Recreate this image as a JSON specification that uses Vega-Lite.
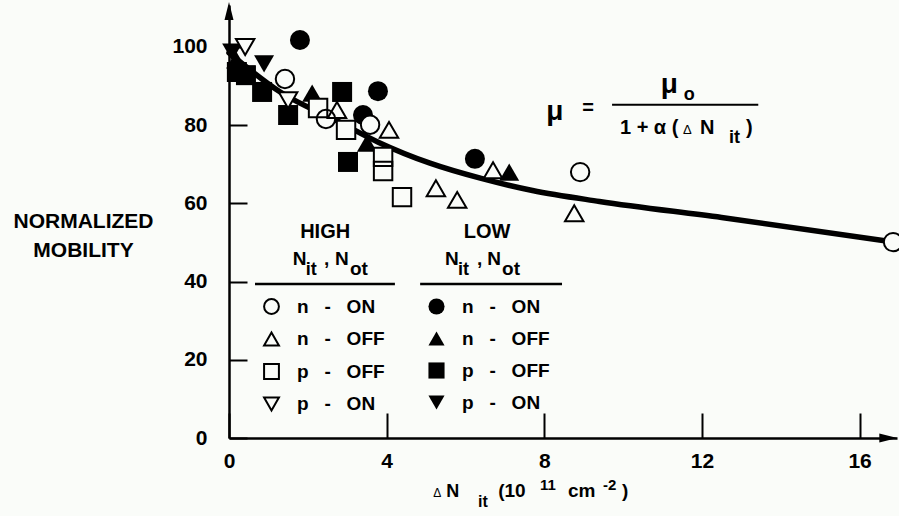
{
  "$schema": "https://vega.github.io/schema/vega-lite/v6.json",
  "width": 668,
  "height": 433,
  "autosize": {"type": "none"},
  "padding": {"left": 229, "top": 5, "right": 2, "bottom": 78},
  "background": "#fafcf9",
  "config": {
    "view": {"stroke": null},
    "font": "Liberation Sans",
    "text": {"font": "Liberation Sans", "fontWeight": "bold", "color": "black"},
    "axis": {
      "grid": false,
      "domainColor": "black",
      "domainWidth": 2.5,
      "tickColor": "black",
      "tickWidth": 2,
      "labelFont": "Liberation Sans",
      "labelFontWeight": "bold",
      "labelFontSize": 21,
      "labelColor": "black",
      "labelFlush": false,
      "labelOverlap": false,
      "titleFont": "Liberation Sans",
      "titleFontWeight": "bold",
      "titleColor": "black"
    }
  },
  "datasets": {
    "points": [
      {"level": "HIGH", "type": "n - ON", "x": 1.42, "y": 91.8},
      {"level": "HIGH", "type": "n - ON", "x": 2.46, "y": 81.6},
      {"level": "HIGH", "type": "n - ON", "x": 3.58, "y": 80.1},
      {"level": "HIGH", "type": "n - ON", "x": 8.91, "y": 68.0},
      {"level": "HIGH", "type": "n - ON", "x": 16.85, "y": 50.1},
      {"level": "HIGH", "type": "n - OFF", "x": 2.74, "y": 83.9},
      {"level": "HIGH", "type": "n - OFF", "x": 4.06, "y": 78.8},
      {"level": "HIGH", "type": "n - OFF", "x": 5.25, "y": 63.9},
      {"level": "HIGH", "type": "n - OFF", "x": 5.79, "y": 60.9},
      {"level": "HIGH", "type": "n - OFF", "x": 6.70, "y": 68.5},
      {"level": "HIGH", "type": "n - OFF", "x": 8.76, "y": 57.5},
      {"level": "HIGH", "type": "p - OFF", "x": 2.26, "y": 84.4},
      {"level": "HIGH", "type": "p - OFF", "x": 2.97, "y": 78.8},
      {"level": "HIGH", "type": "p - OFF", "x": 3.91, "y": 71.9},
      {"level": "HIGH", "type": "p - OFF", "x": 3.91, "y": 68.3},
      {"level": "HIGH", "type": "p - OFF", "x": 4.39, "y": 61.6},
      {"level": "HIGH", "type": "p - ON", "x": 0.41, "y": 100.0},
      {"level": "HIGH", "type": "p - ON", "x": 1.50, "y": 86.4},
      {"level": "LOW", "type": "n - ON", "x": 1.80, "y": 101.8},
      {"level": "LOW", "type": "n - ON", "x": 3.78, "y": 88.7},
      {"level": "LOW", "type": "n - ON", "x": 3.40, "y": 82.6},
      {"level": "LOW", "type": "n - ON", "x": 6.24, "y": 71.4},
      {"level": "LOW", "type": "n - OFF", "x": 0.18, "y": 96.7},
      {"level": "LOW", "type": "n - OFF", "x": 2.11, "y": 88.2},
      {"level": "LOW", "type": "n - OFF", "x": 3.50, "y": 75.4},
      {"level": "LOW", "type": "n - OFF", "x": 7.11, "y": 68.0},
      {"level": "LOW", "type": "p - OFF", "x": 0.20, "y": 93.6},
      {"level": "LOW", "type": "p - OFF", "x": 0.43, "y": 92.8},
      {"level": "LOW", "type": "p - OFF", "x": 0.84, "y": 88.5},
      {"level": "LOW", "type": "p - OFF", "x": 1.50, "y": 82.6},
      {"level": "LOW", "type": "p - OFF", "x": 2.87, "y": 88.5},
      {"level": "LOW", "type": "p - OFF", "x": 3.02, "y": 70.6},
      {"level": "LOW", "type": "p - ON", "x": 0.89, "y": 95.7},
      {"level": "LOW", "type": "p - ON", "x": 0.08, "y": 98.7}
    ],
    "fit": [
      {"x": 0, "y": 98.5},
      {"x": 1.3, "y": 88.5},
      {"x": 2.8, "y": 80.8},
      {"x": 3.8, "y": 75.6},
      {"x": 5.1, "y": 70.3},
      {"x": 6.4, "y": 66.4},
      {"x": 7.7, "y": 63.3},
      {"x": 9.4, "y": 60.5},
      {"x": 12.5, "y": 56.4},
      {"x": 16.95, "y": 50.0}
    ]
  },
  "layer": [
    {
      "data": {"name": "fit"},
      "mark": {"type": "line", "color": "black", "strokeWidth": 5.5, "interpolate": "monotone", "strokeCap": "round"},
      "encoding": {
        "x": {"field": "x", "type": "quantitative", "scale": {"domain": [0, 16.95], "nice": false, "zero": false},
              "axis": {"values": [0, 4, 8, 12, 16], "title": null, "tickSize": -25, "labelPadding": 37, "labelBaseline": "top"}},
        "y": {"field": "y", "type": "quantitative", "scale": {"domain": [0, 110.74], "nice": false, "zero": false},
              "axis": {"values": [0, 20, 40, 60, 80, 100], "tickSize": -18, "labelPadding": 40,
                       "title": ["NORMALIZED", "MOBILITY"], "titleAngle": 0, "titleAlign": "center", "titleBaseline": "middle",
                       "titleX": -146, "titleY": 216, "titleFontSize": 21, "titleLineHeight": 29}}
      }
    },
    {
      "data": {"name": "points"},
      "transform": [{"filter": "datum.level === 'LOW'"}],
      "mark": {"type": "point", "filled": true, "color": "black", "size": 400, "opacity": 1},
      "encoding": {
        "x": {"field": "x", "type": "quantitative"},
        "y": {"field": "y", "type": "quantitative"},
        "shape": {"field": "type", "type": "nominal",
                  "scale": {"domain": ["n - ON", "n - OFF", "p - OFF", "p - ON"], "range": ["circle", "triangle-up", "square", "triangle-down"]},
                  "legend": {"orient": "none", "legendX": 198, "legendY": 292, "title": null, "padding": 0, "offset": 0,
                             "symbolSize": 260, "symbolFillColor": "black", "symbolStrokeColor": "black", "symbolStrokeWidth": 0,
                             "labelFont": "Liberation Sans", "labelFontSize": 19, "labelFontWeight": "bold", "labelColor": "black",
                             "labelOffset": 16, "rowPadding": 12,
                             "labelExpr": "replace(datum.label, regexp(' ', 'g'), '\u00a0\u00a0\u00a0')"}}
      }
    },
    {
      "data": {"name": "points"},
      "transform": [{"filter": "datum.level === 'HIGH'"}],
      "mark": {"type": "point", "filled": true, "color": "#fafcf9", "size": 340, "opacity": 1},
      "encoding": {
        "x": {"field": "x", "type": "quantitative"},
        "y": {"field": "y", "type": "quantitative"},
        "shape": {"field": "type", "type": "nominal",
                  "scale": {"domain": ["n - ON", "n - OFF", "p - OFF", "p - ON"], "range": ["circle", "triangle-up", "square", "triangle-down"]},
                  "legend": null}
      }
    },
    {
      "data": {"name": "points"},
      "transform": [{"filter": "datum.level === 'HIGH'"}],
      "mark": {"type": "point", "filled": false, "color": "black", "strokeWidth": 2, "size": 340, "opacity": 1},
      "encoding": {
        "x": {"field": "x", "type": "quantitative"},
        "y": {"field": "y", "type": "quantitative"},
        "shape": {"field": "type", "type": "nominal",
                  "scale": {"domain": ["n - ON", "n - OFF", "p - OFF", "p - ON"], "range": ["circle", "triangle-up", "square", "triangle-down"]},
                  "legend": {"orient": "none", "legendX": 33, "legendY": 292, "title": null, "padding": 0, "offset": 0,
                             "symbolSize": 220, "symbolStrokeWidth": 2,
                             "labelFont": "Liberation Sans", "labelFontSize": 19, "labelFontWeight": "bold", "labelColor": "black",
                             "labelOffset": 16, "rowPadding": 10.5,
                             "labelExpr": "replace(datum.label, regexp(' ', 'g'), '\u00a0\u00a0\u00a0')"}}
      }
    },
    {"data": {"values": [{}]}, "mark": {"type": "text", "text": "HIGH", "fontSize": 20, "align": "center", "baseline": "middle"},
     "encoding": {"x": {"datum": 2.44}, "y": {"datum": 52.8}}},
    {"data": {"values": [{}]}, "mark": {"type": "text", "text": "LOW", "fontSize": 20, "align": "center", "baseline": "middle"},
     "encoding": {"x": {"datum": 6.55}, "y": {"datum": 52.8}}},
    {"data": {"values": [{}]}, "mark": {"type": "text", "text": "N", "fontSize": 19, "align": "left", "baseline": "alphabetic"},
     "encoding": {"x": {"datum": 1.62}, "y": {"datum": 44.2}}},
    {"data": {"values": [{}]}, "mark": {"type": "text", "text": "it", "fontSize": 18, "align": "left", "baseline": "alphabetic"},
     "encoding": {"x": {"datum": 1.95}, "y": {"datum": 41.7}}},
    {"data": {"values": [{}]}, "mark": {"type": "text", "text": ",", "fontSize": 19, "align": "left", "baseline": "alphabetic"},
     "encoding": {"x": {"datum": 2.41}, "y": {"datum": 44.2}}},
    {"data": {"values": [{}]}, "mark": {"type": "text", "text": "N", "fontSize": 19, "align": "left", "baseline": "alphabetic"},
     "encoding": {"x": {"datum": 2.69}, "y": {"datum": 44.2}}},
    {"data": {"values": [{}]}, "mark": {"type": "text", "text": "ot", "fontSize": 19, "align": "left", "baseline": "alphabetic"},
     "encoding": {"x": {"datum": 3.07}, "y": {"datum": 41.7}}},
    {"data": {"values": [{}]}, "mark": {"type": "text", "text": "N", "fontSize": 19, "align": "left", "baseline": "alphabetic"},
     "encoding": {"x": {"datum": 5.48}, "y": {"datum": 44.2}}},
    {"data": {"values": [{}]}, "mark": {"type": "text", "text": "it", "fontSize": 18, "align": "left", "baseline": "alphabetic"},
     "encoding": {"x": {"datum": 5.81}, "y": {"datum": 41.7}}},
    {"data": {"values": [{}]}, "mark": {"type": "text", "text": ",", "fontSize": 19, "align": "left", "baseline": "alphabetic"},
     "encoding": {"x": {"datum": 6.29}, "y": {"datum": 44.2}}},
    {"data": {"values": [{}]}, "mark": {"type": "text", "text": "N", "fontSize": 19, "align": "left", "baseline": "alphabetic"},
     "encoding": {"x": {"datum": 6.55}, "y": {"datum": 44.2}}},
    {"data": {"values": [{}]}, "mark": {"type": "text", "text": "ot", "fontSize": 19, "align": "left", "baseline": "alphabetic"},
     "encoding": {"x": {"datum": 6.93}, "y": {"datum": 41.7}}},
    {"data": {"values": [{}]}, "mark": {"type": "rule", "color": "black", "strokeWidth": 2.5},
     "encoding": {"x": {"datum": 0.66}, "x2": {"datum": 4.21}, "y": {"datum": 39.4}}},
    {"data": {"values": [{}]}, "mark": {"type": "rule", "color": "black", "strokeWidth": 2.5},
     "encoding": {"x": {"datum": 4.85}, "x2": {"datum": 8.45}, "y": {"datum": 39.4}}},
    {"data": {"values": [{}]}, "mark": {"type": "text", "text": "μ", "fontSize": 28, "align": "center", "baseline": "middle"},
     "encoding": {"x": {"datum": 8.27}, "y": {"datum": 83.4}}},
    {"data": {"values": [{}]}, "mark": {"type": "text", "text": "=", "fontSize": 20, "align": "center", "baseline": "middle"},
     "encoding": {"x": {"datum": 9.11}, "y": {"datum": 84.4}}},
    {"data": {"values": [{}]}, "mark": {"type": "rule", "color": "black", "strokeWidth": 2},
     "encoding": {"x": {"datum": 9.72}, "x2": {"datum": 13.43}, "y": {"datum": 85.2}}},
    {"data": {"values": [{}]}, "mark": {"type": "text", "text": "μ", "fontSize": 28, "align": "center", "baseline": "middle"},
     "encoding": {"x": {"datum": 11.17}, "y": {"datum": 90.3}}},
    {"data": {"values": [{}]}, "mark": {"type": "text", "text": "o", "fontSize": 18, "align": "center", "baseline": "middle"},
     "encoding": {"x": {"datum": 11.68}, "y": {"datum": 87.7}}},
    {"data": {"values": [{}]}, "mark": {"type": "text", "text": "1 + α (", "fontSize": 20, "align": "left", "baseline": "alphabetic"},
     "encoding": {"x": {"datum": 9.92}, "y": {"datum": 77.7}}},
    {"data": {"values": [{}]}, "mark": {"type": "text", "text": "Δ", "fontSize": 13, "fontWeight": "normal", "align": "left", "baseline": "alphabetic"},
     "encoding": {"x": {"datum": 11.52}, "y": {"datum": 77.7}}},
    {"data": {"values": [{}]}, "mark": {"type": "text", "text": "N", "fontSize": 20, "align": "left", "baseline": "alphabetic"},
     "encoding": {"x": {"datum": 11.95}, "y": {"datum": 77.7}}},
    {"data": {"values": [{}]}, "mark": {"type": "text", "text": "it", "fontSize": 18, "align": "left", "baseline": "alphabetic"},
     "encoding": {"x": {"datum": 12.69}, "y": {"datum": 75.4}}},
    {"data": {"values": [{}]}, "mark": {"type": "text", "text": ")", "fontSize": 20, "align": "left", "baseline": "alphabetic"},
     "encoding": {"x": {"datum": 13.12}, "y": {"datum": 77.7}}},
    {"data": {"values": [{}]}, "mark": {"type": "text", "text": "Δ", "fontSize": 12, "fontWeight": "normal", "align": "left", "baseline": "alphabetic"},
     "encoding": {"x": {"datum": 5.18}, "y": {"datum": -15.1}}},
    {"data": {"values": [{}]}, "mark": {"type": "text", "text": "N", "fontSize": 18, "align": "left", "baseline": "alphabetic"},
     "encoding": {"x": {"datum": 5.51}, "y": {"datum": -15.1}}},
    {"data": {"values": [{}]}, "mark": {"type": "text", "text": "it", "fontSize": 16, "align": "left", "baseline": "alphabetic"},
     "encoding": {"x": {"datum": 6.32}, "y": {"datum": -17.6}}},
    {"data": {"values": [{}]}, "mark": {"type": "text", "text": "(10", "fontSize": 19, "align": "left", "baseline": "alphabetic"},
     "encoding": {"x": {"datum": 6.83}, "y": {"datum": -15.1}}},
    {"data": {"values": [{}]}, "mark": {"type": "text", "text": "11", "fontSize": 15, "align": "left", "baseline": "alphabetic"},
     "encoding": {"x": {"datum": 7.89}, "y": {"datum": -13.3}}},
    {"data": {"values": [{}]}, "mark": {"type": "text", "text": "cm", "fontSize": 19, "align": "left", "baseline": "alphabetic"},
     "encoding": {"x": {"datum": 8.6}, "y": {"datum": -15.1}}},
    {"data": {"values": [{}]}, "mark": {"type": "text", "text": "-2", "fontSize": 15, "align": "left", "baseline": "alphabetic"},
     "encoding": {"x": {"datum": 9.49}, "y": {"datum": -13.3}}},
    {"data": {"values": [{}]}, "mark": {"type": "text", "text": ")", "fontSize": 19, "align": "left", "baseline": "alphabetic"},
     "encoding": {"x": {"datum": 9.97}, "y": {"datum": -15.1}}},
    {"data": {"values": [{}]}, "mark": {"type": "point", "shape": "M0,-1L0.5,1L-0.5,1Z", "size": 324, "filled": true, "color": "black", "opacity": 1},
     "encoding": {"x": {"datum": 0}, "y": {"datum": 109.2}}},
    {"data": {"values": [{}]}, "mark": {"type": "point", "shape": "M1,0L-1,-0.5L-1,0.5Z", "size": 324, "filled": true, "color": "black", "opacity": 1},
     "encoding": {"x": {"datum": 16.73}, "y": {"datum": 0}}}
  ],
  "resolve": {"scale": {"shape": "independent"}, "legend": {"shape": "independent"}}
}
